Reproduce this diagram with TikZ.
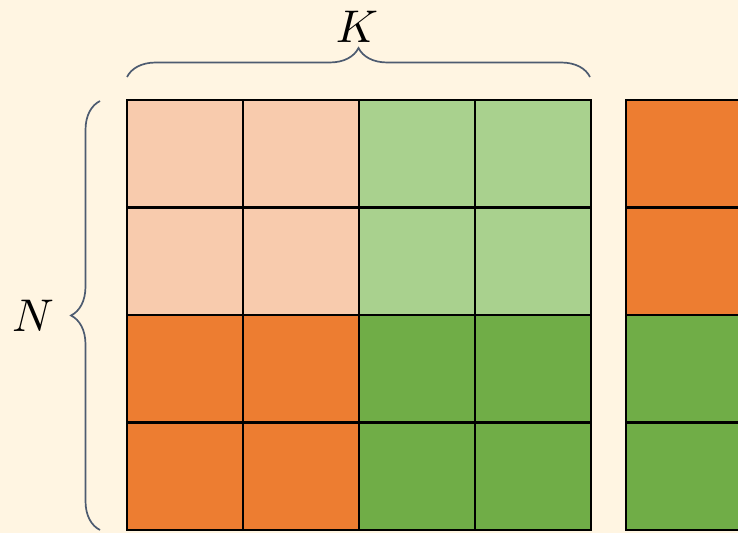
\documentclass[tikz,border=0pt]{standalone}
\usetikzlibrary{decorations.pathreplacing}
\definecolor{bgc}{HTML}{FFF5E2}
\definecolor{lorange}{HTML}{F8CBAD}
\definecolor{lgreen}{HTML}{A9D18E}
\definecolor{dorange}{HTML}{ED7D31}
\definecolor{dgreen}{HTML}{70AD47}
\definecolor{bracec}{HTML}{4D5B70}
\begin{document}
\begin{tikzpicture}[x=1bp,y=-1bp,
  cell/.style={minimum width=116bp,minimum height=107.5bp,inner sep=0pt,outer sep=0pt},
  border/.style={draw=black,line width=2.3bp},
  bracestyle/.style={draw=bracec,line width=1.7bp,decorate,decoration={brace,amplitude=29bp}},
  lbl/.style={inner sep=0pt}]
\fill[bgc] (0,0) rectangle (738,533);
\useasboundingbox (0,0) rectangle (738,533);
% left grid
\foreach \r/\y in {1/153.75,2/261.25,3/368.75,4/476.25}{
  \foreach \c/\x in {1/185,2/301,3/417,4/533}{
    \ifnum\r<3
      \ifnum\c<3 \def\fc{lorange}\else\def\fc{lgreen}\fi
    \else
      \ifnum\c<3 \def\fc{dorange}\else\def\fc{dgreen}\fi
    \fi
    \node[cell,fill=\fc] (c\r\c) at (\x,\y) {};
  }
}
% right column
\node[cell,fill=dorange] (v1) at (684,153.75) {};
\node[cell,fill=dorange] (v2) at (684,261.25) {};
\node[cell,fill=dgreen] (v3) at (684,368.75) {};
\node[cell,fill=dgreen] (v4) at (684,476.25) {};
% borders
\foreach \r in {1,...,4}{
  \foreach \c in {1,...,4}{
    \draw[border] (c\r\c.north west) rectangle (c\r\c.south east);
  }
  \draw[border] (v\r.north west) rectangle (v\r.south east);
}
% braces
\coordinate (tl) at (127,77);
\coordinate (tr) at (590,77);
\coordinate (lb) at (100,530);
\coordinate (lt) at (100,101);
\draw[bracestyle] (tl) -- (tr);
\draw[bracestyle] (lb) -- (lt);
\node[lbl] (K) at (357,27) {\scalebox{4.6}{$K$}};
\node[lbl] (N) at (33,316) {\scalebox{4.6}{$N$}};
\end{tikzpicture}
\end{document}
